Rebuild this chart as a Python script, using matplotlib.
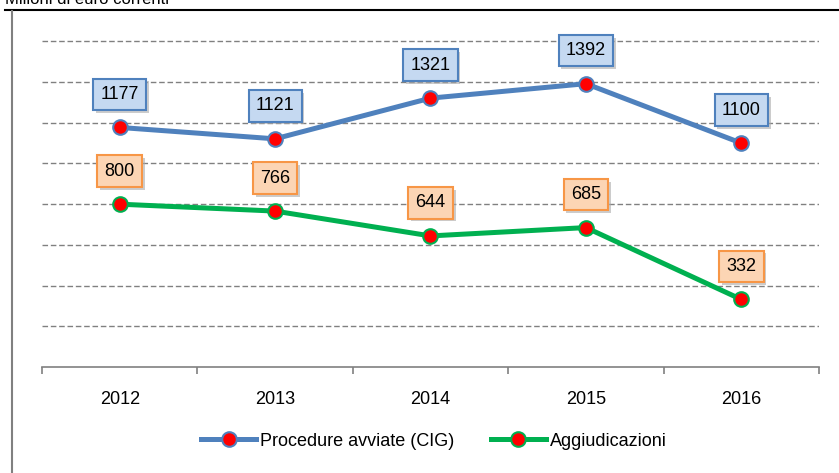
import matplotlib.pyplot as plt
import matplotlib.patheffects as pe
import numpy as np

plt.rcParams['font.family'] = ['Liberation Sans', 'DejaVu Sans']

years = ['2012', '2013', '2014', '2015', '2016']
procedure = [1177, 1121, 1321, 1392, 1100]
aggiudicazioni = [800, 766, 644, 685, 332]

blue = '#4F81BD'
green = '#00B050'
fs = 13

W, H = 839, 473
fig = plt.figure(figsize=(W / 100, H / 100), dpi=100)

# axes placed in pixel coordinates of the reference
left, right, bottom, top = 42, 819, 367, 10
ax = fig.add_axes([left / W, (H - bottom) / H, (right - left) / W, (bottom - top) / H])
x = np.arange(len(years))
ax.set_xlim(-0.5, len(years) - 0.5)
ax.set_ylim(0, 1754)

for g in range(200, 1601, 200):
    ax.axhline(g, color='#808080', lw=1, ls=(0, (4, 2)), zorder=1)

ax.plot(x, procedure, color=blue, lw=3.6, marker='o', ms=10.5, mfc='red',
        mec=blue, mew=1.5, zorder=3, label='Procedure avviate (CIG)')
ax.plot(x, aggiudicazioni, color=green, lw=3.6, marker='o', ms=10.5, mfc='red',
        mec=green, mew=1.5, zorder=3, label='Aggiudicazioni')

shadow = [pe.withSimplePatchShadow(offset=(2, -2), shadow_rgbFace='#aaaaaa', alpha=0.6)]
for series, fc, ec in [(procedure, '#C5D9F1', blue), (aggiudicazioni, '#FCD5B4', '#F79646')]:
    for xi, v in zip(x, series):
        ax.annotate(str(v), (xi, v), xytext=(0, 33), textcoords='offset pixels',
                    ha='center', va='center', fontsize=fs, zorder=5,
                    bbox=dict(boxstyle='square,pad=0.4', fc=fc, ec=ec, lw=1.5,
                              path_effects=shadow))

for s in ['top', 'right', 'left']:
    ax.spines[s].set_visible(False)
ax.spines['bottom'].set_color('#808080')
ax.spines['bottom'].set_linewidth(1.2)
ax.set_yticks([])
ax.set_xticks(x)
ax.set_xticklabels(years, fontsize=fs)
ax.tick_params(axis='x', which='major', length=0, pad=17)
ax.set_xticks(np.arange(-0.5, len(years)), minor=True)
ax.tick_params(axis='x', which='minor', length=5, color='#808080', width=1.2, direction='out')

fig.legend(loc='center', bbox_to_anchor=(434 / W, (H - 441) / H), ncol=2,
           frameon=False, fontsize=fs, handlelength=3.05, handletextpad=0.22,
           columnspacing=2.0)

# outer frame and cut-off caption
fig.add_artist(plt.Line2D([5 / W, 1], [(H - 10) / H] * 2, color='black', lw=1.5))
fig.add_artist(plt.Line2D([12 / W] * 2, [0, (H - 11) / H], color='#808080', lw=1.5))
fig.text(5 / W, (H - 4) / H, 'Milioni di euro correnti', fontsize=12, va='baseline', ha='left')

fig.savefig('out.png', dpi=100)
